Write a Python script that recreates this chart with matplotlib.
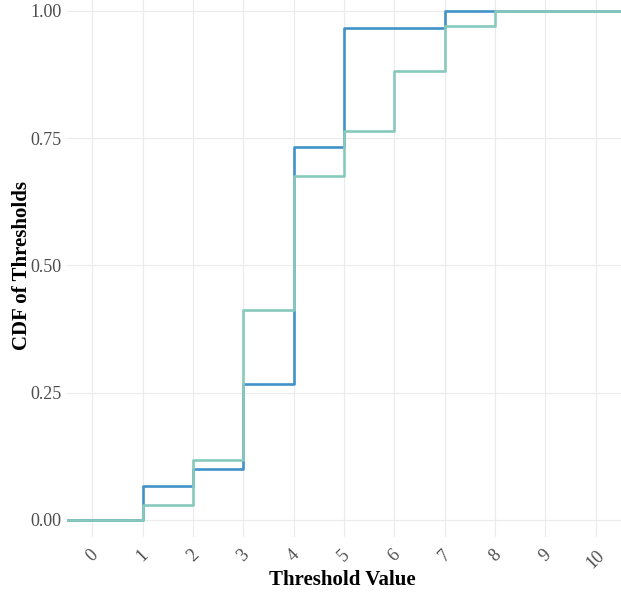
import matplotlib
matplotlib.use("Agg")
import matplotlib.pyplot as plt

thresholds = [-0.5, 0, 1, 2, 3, 4, 5, 6, 7, 8, 9, 10, 10.5]
cdf_blue = [0, 0, 2/30, 3/30, 8/30, 22/30, 29/30, 29/30, 1, 1, 1, 1, 1]
cdf_teal = [0, 0, 1/34, 4/34, 14/34, 23/34, 26/34, 30/34, 33/34, 1, 1, 1, 1]
xticks = list(range(0, 11))
yticks = [0.0, 0.25, 0.5, 0.75, 1.0]
ytick_labels = ["0.00", "0.25", "0.50", "0.75", "1.00"]

plt.rcParams['font.family'] = ['Liberation Serif', 'DejaVu Serif']

fig = plt.figure(figsize=(6.21, 5.96), dpi=100)
ax = fig.add_axes([67/621, 1 - 537/596, (621-67)/621, 537/596])

ax.step(thresholds, cdf_blue, where='post', color='#4192c9', lw=1.9, zorder=3)
ax.step(thresholds, cdf_teal, where='post', color='#88c9bd', lw=1.9, zorder=4)

ax.set_xlim(-0.5, 10.5)
ax.set_ylim(-0.0334, 1.0216)
ax.set_xticks(xticks)
ax.set_xticklabels([str(t) for t in xticks], rotation=45, ha='center', va='top')
ax.set_yticks(yticks)
ax.set_yticklabels(ytick_labels)
ax.tick_params(axis='both', length=0, labelsize=13, labelcolor='#4d4d4d', pad=4)
ax.tick_params(axis='x', pad=7)
ax.grid(True, color='#ebebeb', lw=0.8)
ax.set_axisbelow(True)
for s in ax.spines.values():
    s.set_visible(False)

ax.set_xlabel("Threshold Value", fontsize=15, fontweight='bold')
ax.set_ylabel("CDF of Thresholds", fontsize=15, fontweight='bold')
ax.xaxis.set_label_coords((342 - 67) / 554, -(580 - 537) / 537 - 0.0)
ax.xaxis.label.set_va('center')
ax.yaxis.set_label_coords(-(67 - 22) / 554, 0.5 + (537/2 - 266) / 537)
ax.yaxis.label.set_va('center')

fig.savefig("out.png", dpi=100)
